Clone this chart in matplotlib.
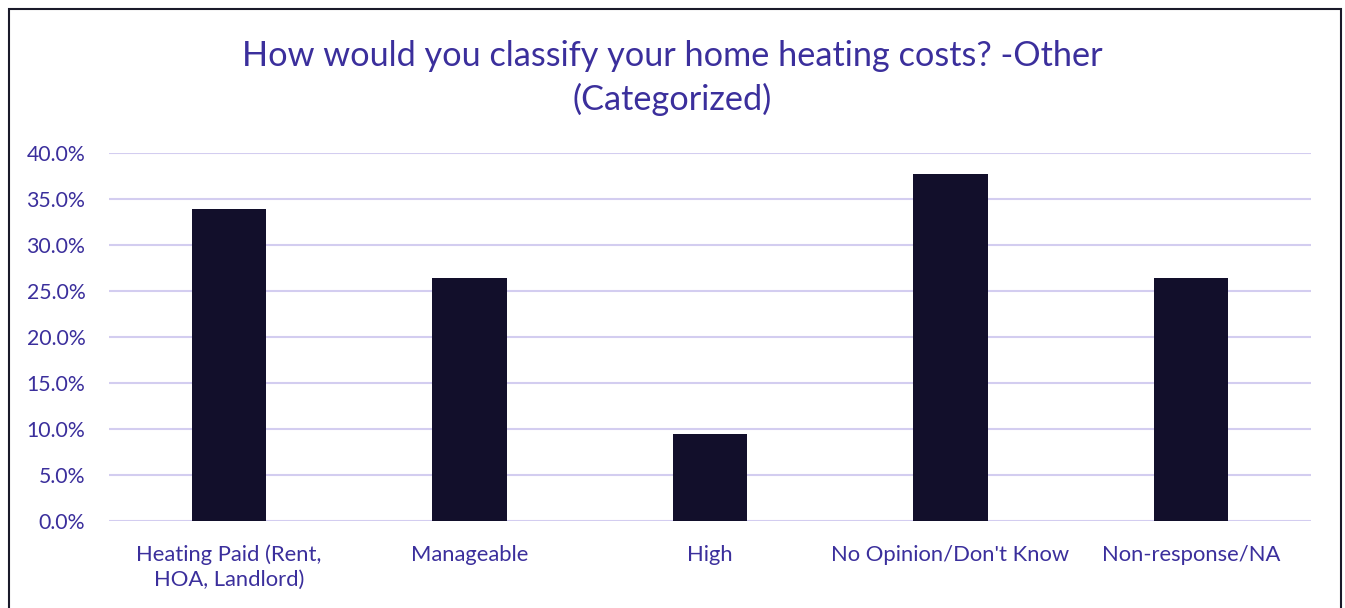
import numpy as np
import matplotlib.pyplot as plt
from matplotlib.patches import Rectangle
from matplotlib.ticker import PercentFormatter

categories = ["Heating Paid (Rent,\nHOA, Landlord)", "Manageable", "High",
              "No Opinion/Don't Know", "Non-response/NA"]
values = [33.96, 26.42, 9.43, 37.74, 26.42]  # percent of respondents

text_col = "#3b2f9c"
bar_col = "#120f2b"
grid_col = "#d3cdf0"

plt.rcParams['font.family'] = ['Lato', 'DejaVu Sans']

fig = plt.figure(figsize=(13.45, 6.08), dpi=100)
ax = fig.add_axes([0.081, 0.1431, 0.8937, 0.6053])

x = np.arange(len(categories))
ax.bar(x, values, width=0.31, color=bar_col, zorder=3)

ax.set_xlim(-0.5, len(categories) - 0.5)
ax.set_ylim(0, 40)
ax.set_yticks(np.arange(0, 40.1, 5))
ax.yaxis.set_major_formatter(PercentFormatter(decimals=1))
ax.set_xticks(x)
ax.set_xticklabels(categories, fontsize=15.8, color=text_col, linespacing=1.27)
ax.tick_params(axis='y', labelsize=15.3, labelcolor=text_col, length=0, pad=17)
ax.tick_params(axis='x', length=0, pad=17)

ax.grid(axis='y', color=grid_col, linewidth=1.5, zorder=0)
for s in ax.spines.values():
    s.set_visible(False)

fig.text(0.5, 0.872, "How would you classify your home heating costs? -Other\n(Categorized)",
         ha='center', va='center', fontsize=24.7, color=text_col, linespacing=1.4)

# chart border (bottom edge runs off the image)
fig.patches.append(Rectangle((9 / 1345, -0.05), (1341 - 9) / 1345, 1.05 - 9 / 608,
                             transform=fig.transFigure, fill=False,
                             edgecolor="#1a1a2a", linewidth=1.5))

fig.savefig("out.png", dpi=100)
